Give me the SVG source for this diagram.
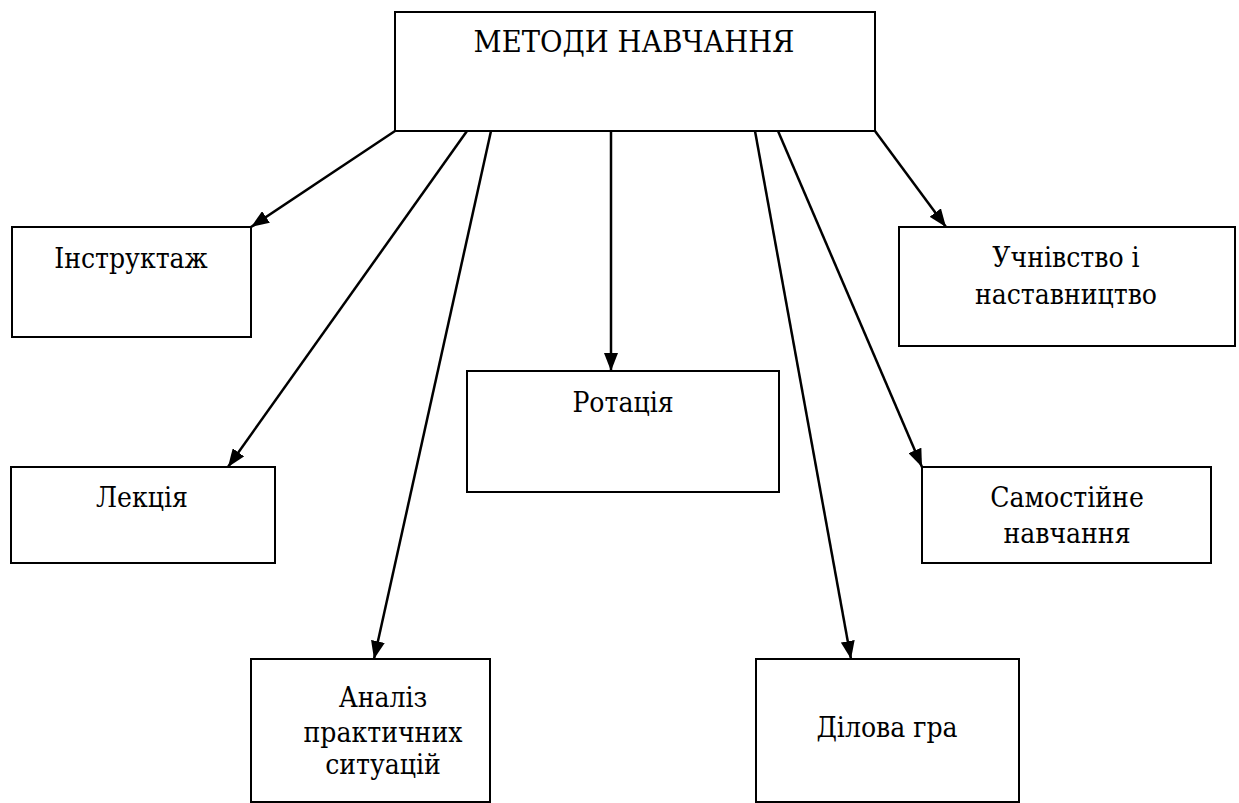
<svg xmlns="http://www.w3.org/2000/svg" width="1239" height="803" viewBox="0 0 1239 803">
<style>
.box{fill:#fff;stroke:#000;stroke-width:2}
.t{font-family:"DejaVu Serif Condensed","DejaVu Serif",serif;font-size:28px;fill:#000;text-anchor:middle}
.c{stroke:#000;stroke-width:2.5;fill:none;marker-end:url(#ah)}
</style>
<defs>
<marker id="ah" viewBox="0 0 18 14" refX="18" refY="7" markerWidth="18" markerHeight="14" markerUnits="userSpaceOnUse" orient="auto">
<path d="M0,0 L18,7 L0,14 z" fill="#000"/>
</marker>
</defs>
<rect width="1239" height="803" fill="#fff"/>
<g id="connectors">
<line class="c" x1="395" y1="131" x2="251" y2="227"/>
<line class="c" x1="467" y1="131" x2="228" y2="467"/>
<line class="c" x1="491" y1="131" x2="374" y2="659"/>
<line class="c" x1="611" y1="131" x2="611" y2="371"/>
<line class="c" x1="755" y1="131" x2="851" y2="659"/>
<line class="c" x1="778" y1="131" x2="922" y2="467"/>
<line class="c" x1="875" y1="131" x2="946" y2="227"/>
</g>
<g id="root">
<rect class="box" x="395" y="12" width="480" height="119"/>
<text class="t" style="font-size:30.5px" x="634" y="52">МЕТОДИ НАВЧАННЯ</text>
</g>
<g id="instruktazh">
<rect class="box" x="12" y="227" width="239" height="110"/>
<text class="t" x="131" y="268">Інструктаж</text>
</g>
<g id="uchnivstvo">
<rect class="box" x="899" y="227" width="336" height="119"/>
<text class="t" x="1066" y="267">Учнівство і</text>
<text class="t" x="1066" y="304">наставництво</text>
</g>
<g id="rotatsiia">
<rect class="box" x="467" y="371" width="312" height="121"/>
<text class="t" x="623" y="412">Ротація</text>
</g>
<g id="lektsiia">
<rect class="box" x="11" y="467" width="264" height="96"/>
<text class="t" x="142" y="507">Лекція</text>
</g>
<g id="samostiine">
<rect class="box" x="922" y="467" width="289" height="96"/>
<text class="t" x="1067" y="507">Самостійне</text>
<text class="t" x="1067" y="543">навчання</text>
</g>
<g id="analiz">
<rect class="box" x="251" y="659" width="239" height="143"/>
<text class="t" x="383" y="707">Аналіз</text>
<text class="t" x="383" y="742">практичних</text>
<text class="t" x="383" y="774">ситуацій</text>
</g>
<g id="dilova">
<rect class="box" x="756" y="659" width="263" height="143"/>
<text class="t" x="887" y="737">Ділова гра</text>
</g>
</svg>
